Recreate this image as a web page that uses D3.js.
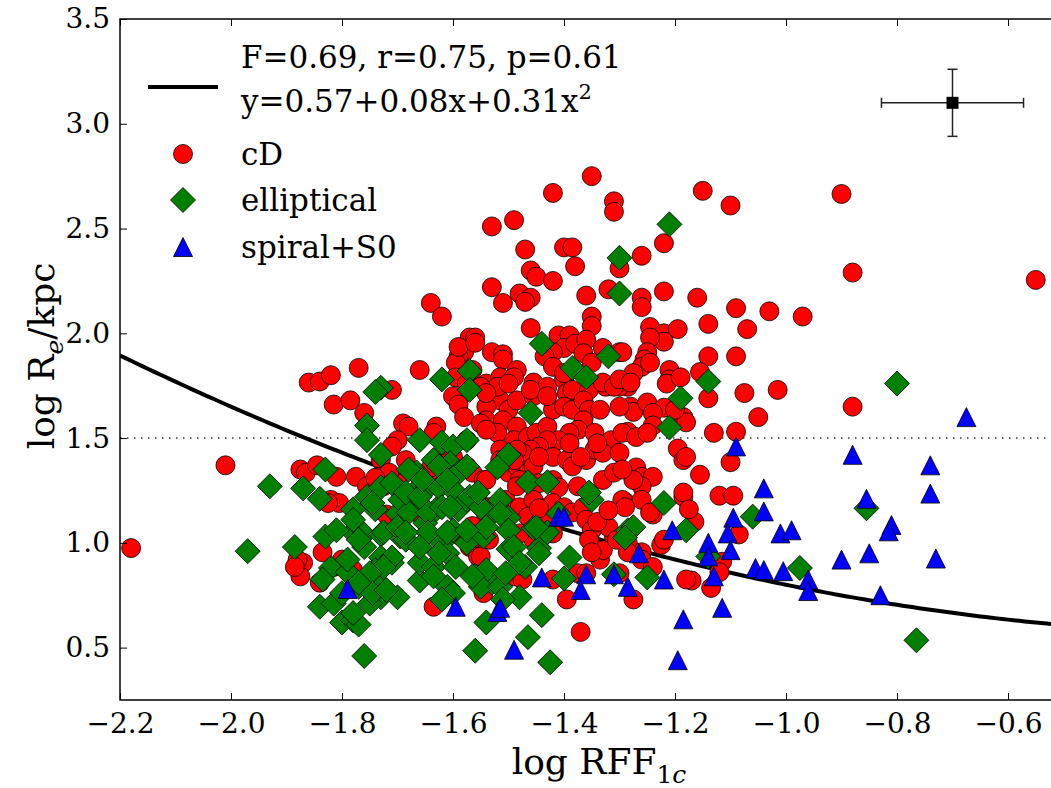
<!DOCTYPE html>
<html>
<head>
<meta charset="utf-8">
<script src="https://cdn.jsdelivr.net/npm/d3@7"></script>
<style>
  body { margin: 0; background: #fff; }
  svg { display: block; font-family: "DejaVu Serif", serif; }
</style>
</head>
<body>
<svg id="chart" width="1051" height="788"></svg>
<script>
// cD galaxies, [log RFF1c, log Re]
const cdPoints = [
  [-1.35,2.75],[-1.42,2.67],[-1.31,2.63],[-1.31,2.58],[-1.53,2.51],[-1.49,2.54],[-1.47,2.40],[-1.40,2.41],
  [-1.385,2.41],[-1.38,2.32],[-1.30,2.31],[-1.46,2.30],[-1.45,2.27],[-1.42,2.25],[-1.53,2.22],[-1.48,2.19],
  [-1.46,2.17],[-1.47,2.15],[-1.51,2.145],[-1.64,2.145],[-1.62,2.08],[-1.36,2.18],[-1.32,2.21],[-1.35,2.08],
  [-1.35,2.035],[-1.46,2.025],[-1.41,1.99],[-1.39,1.99],[-1.40,1.93],[-1.38,1.95],[-1.36,1.97],[-1.57,1.98],
  [-1.56,1.98],[-1.58,1.91],[-1.53,1.91],[-1.51,1.90],[-1.33,1.93],[-1.30,1.91],[-1.15,2.68],[-1.10,2.61],
  [-0.90,2.665],[-1.22,2.43],[-1.26,2.37],[-1.26,2.17],[-1.26,2.125],[-1.22,2.20],[-1.16,2.17],[-1.09,2.12],
  [-1.03,2.105],[-0.97,2.08],[-0.88,2.29],[-1.07,2.02],[-1.14,2.045],[-1.245,2.03],[-1.22,2.00],[-1.195,2.02],
  [-1.22,1.96],[-1.245,1.98],[-1.295,1.91],[-1.25,1.91],[-1.255,1.875],[-1.26,1.84],[-1.275,1.81],[-1.285,1.745],
  [-1.30,1.745],[-1.21,1.825],[-1.21,1.78],[-1.14,1.89],[-1.155,1.815],[-1.14,1.69],[-1.09,1.89],[-1.075,1.715],
  [-1.015,1.73],[-1.05,1.60],[-0.88,1.65],[-1.28,1.65],[-1.275,1.625],[-1.25,1.67],[-1.22,1.645],[-1.24,1.62],
  [-1.185,1.60],[-1.18,1.575],[-1.24,1.56],[-1.285,1.53],[-1.13,1.525],[-1.09,1.53],[-0.55,2.255],[-1.10,1.385],
  [-1.155,1.325],[-1.12,1.225],[-1.095,1.225],[-1.185,1.22],[-1.165,1.10],[-1.085,1.04],[-1.225,0.99],[-1.115,0.91],
  [-1.12,0.86],[-1.17,0.82],[-1.135,0.785],[-1.275,0.73],[-1.325,1.745],[-1.215,1.76],[-1.195,1.45],[-1.185,1.395],
  [-1.27,1.36],[-1.26,1.315],[-1.24,1.315],[-1.26,1.27],[-1.29,1.195],[-1.24,1.135],[-1.31,1.025],[-1.285,1.00],
  [-1.26,0.955],[-1.26,0.92],[-1.24,0.885],[-1.335,0.92],[-1.33,0.965],[-1.32,1.075],[-1.42,1.91],[-1.59,1.89],
  [-1.51,1.875],[-1.485,1.825],[-1.435,1.89],[-1.42,1.84],[-1.365,1.905],[-1.35,1.86],[-1.245,1.86],[-1.19,1.79],
  [-1.595,1.86],[-1.595,1.79],[-1.59,1.68],[-1.575,1.76],[-1.565,1.825],[-1.54,1.76],[-1.515,1.79],[-1.49,1.79],
  [-1.515,1.68],[-1.52,1.745],[-1.455,1.765],[-1.43,1.745],[-1.40,1.78],[-1.395,1.715],[-1.385,1.73],[-1.355,1.73],
  [-1.33,1.765],[-1.31,1.745],[-1.30,1.78],[-1.66,1.825],[-1.77,1.835],[-1.86,1.765],[-1.84,1.77],[-1.82,1.80],
  [-1.815,1.66],[-1.785,1.68],[-1.71,1.73],[-1.76,1.62],[-1.69,1.57],[-1.68,1.555],[-1.63,1.555],[-1.635,1.525],
  [-1.70,1.49],[-1.73,1.395],[-1.775,1.315],[-1.54,1.65],[-1.50,1.635],[-1.485,1.68],[-1.455,1.70],[-1.54,1.585],
  [-1.51,1.585],[-1.485,1.555],[-1.52,1.525],[-1.49,1.49],[-1.465,1.505],[-1.45,1.525],[-1.43,1.555],[-1.42,1.635],
  [-1.40,1.65],[-1.385,1.635],[-1.365,1.68],[-1.355,1.635],[-1.365,1.585],[-1.375,1.54],[-1.39,1.525],[-1.41,1.49],
  [-1.43,1.49],[-1.445,1.46],[-1.46,1.445],[-1.475,1.43],[-1.485,1.445],[-1.515,1.445],[-1.335,1.635],[-1.30,1.65],
  [-1.20,1.635],[-1.345,1.525],[-1.315,1.49],[-1.295,1.525],[-1.27,1.505],[-1.25,1.525],[-1.42,1.41],[-1.395,1.395],
  [-1.385,1.365],[-1.36,1.395],[-1.345,1.445],[-1.33,1.43],[-1.30,1.43],[-1.275,1.30],[-1.18,1.41],[-1.575,1.365],
  [-1.565,1.335],[-1.545,1.30],[-1.515,1.365],[-1.50,1.335],[-1.485,1.365],[-1.465,1.335],[-1.455,1.365],[-1.445,1.41],
  [-1.48,1.30],[-1.445,1.285],[-1.42,1.30],[-1.41,1.265],[-1.60,1.41],[-1.62,1.38],[-1.625,1.315],[-1.64,1.36],
  [-1.71,1.46],[-1.685,1.395],[-1.735,1.315],[-1.725,1.27],[-1.755,1.27],[-1.81,1.315],[-1.82,1.205],[-1.805,1.19],
  [-1.875,1.35],[-1.865,1.335],[-1.70,1.285],[-1.69,1.235],[-1.675,1.19],[-1.665,1.145],[-1.655,1.17],[-1.555,1.205],
  [-1.535,1.17],[-1.54,1.125],[-1.565,1.08],[-1.55,1.03],[-1.57,0.98],[-1.505,1.205],[-1.48,1.17],[-1.455,1.205],
  [-1.43,1.17],[-1.42,1.19],[-1.40,1.17],[-1.385,1.145],[-1.365,1.17],[-1.36,1.11],[-1.35,1.06],[-1.355,1.015],
  [-1.35,0.955],[-1.465,1.045],[-1.455,1.015],[-1.445,1.06],[-1.42,1.045],[-1.295,1.205],[-1.26,1.205],[-1.245,1.145],
  [-1.22,1.015],[-1.185,1.24],[-1.175,1.16],[-1.18,0.825],[-1.30,0.855],[-1.375,0.855],[-1.395,0.73],[-1.49,0.84],
  [-1.475,0.825],[-1.42,0.825],[-1.465,1.125],[-1.43,1.11],[-1.635,0.695],[-1.87,0.905],[-1.835,0.955],[-1.815,0.885],
  [-1.80,0.92],[-1.78,0.87],[-1.875,0.84],[-1.84,0.81],[-1.37,0.575],[-2.18,0.975],[-2.01,1.37],[-1.715,1.335],
  [-1.74,1.31],[-1.845,1.37],[-1.825,1.19],[-1.88,0.92],[-1.885,0.885],[-1.735,0.745],[-1.545,0.76],[-1.585,1.03],
  [-1.555,0.935],[-1.72,1.135],[-1.695,1.11],[-1.34,1.10],[-1.36,0.855],[-1.29,1.17],[-1.305,1.015],[-1.285,0.955],
  [-1.445,1.165],[-1.535,1.015],[-1.55,0.935],[-1.55,0.81],[-1.48,1.045],[-1.28,1.765],[-1.60,1.70],[-1.59,1.66],
  [-1.58,1.60],[-1.55,1.57],[-1.54,1.54],[-1.55,1.745],[-1.575,1.49],[-1.59,1.935],[-1.56,1.955],[-1.50,1.76],
  [-1.54,1.715],[-1.46,1.73],[-1.43,1.70],[-1.40,1.81],[-1.39,1.475],[-1.34,1.475],[-1.37,1.41],[-1.49,1.395],
  [-1.515,1.395],[-1.54,1.30],[-1.485,1.27],[-1.375,1.27],[-1.33,1.30],[-1.31,1.335],[-1.295,1.35],[-1.32,1.155]
];

// elliptical galaxies
const ellPoints = [
  [-1.21,2.52],[-1.30,2.36],[-1.30,2.19],[-1.44,1.95],[-1.32,1.89],[-1.14,1.77],[-1.19,1.69],[-1.21,1.55],
  [-0.80,1.76],[-1.73,1.74],[-1.74,1.72],[-1.62,1.78],[-1.57,1.82],[-1.57,1.73],[-1.755,1.56],[-1.755,1.49],
  [-1.73,1.42],[-1.66,1.49],[-1.62,1.48],[-1.60,1.46],[-1.575,1.49],[-1.83,1.35],[-1.87,1.26],[-1.84,1.21],
  [-1.93,1.27],[-1.97,0.96],[-1.885,0.98],[-1.83,1.03],[-1.82,0.88],[-1.84,0.695],[-1.815,0.71],[-1.80,0.62],
  [-1.78,0.63],[-1.77,0.61],[-1.76,0.46],[-1.78,1.05],[-1.76,1.04],[-1.73,1.04],[-1.76,0.98],[-1.755,1.22],
  [-1.74,1.16],[-1.78,1.16],[-1.79,0.86],[-1.755,0.81],[-1.73,0.74],[-1.75,0.71],[-1.77,0.79],[-1.73,0.93],
  [-1.74,0.87],[-1.71,0.905],[-1.70,0.74],[-1.56,0.485],[-1.54,0.62],[-1.745,0.82],[-1.79,0.92],[-1.70,1.14],
  [-1.695,1.03],[-1.71,0.93],[-1.66,0.82],[-1.66,0.905],[-1.65,1.095],[-1.62,1.00],[-1.61,0.95],[-1.60,1.06],
  [-1.575,1.00],[-1.59,1.16],[-1.56,0.84],[-1.53,0.81],[-1.63,1.16],[-1.67,1.19],[-1.61,0.79],[-1.545,1.03],
  [-1.635,0.885],[-1.53,1.14],[-1.50,1.12],[-1.50,1.06],[-1.54,0.87],[-1.55,0.79],[-1.455,1.07],[-1.445,0.975],
  [-1.43,1.05],[-1.50,0.97],[-1.47,0.885],[-1.39,0.93],[-1.40,0.83],[-1.48,0.74],[-1.44,0.655],[-1.465,0.55],
  [-1.425,0.43],[-1.285,1.06],[-1.275,1.075],[-1.25,0.835],[-1.31,0.85],[-1.35,1.205],[-1.22,1.19],[-1.41,1.14],
  [-1.385,1.835],[-1.36,1.79],[-1.46,1.62],[-1.50,1.42],[-1.52,1.36],[-1.515,1.205],[-1.465,1.29],[-1.43,1.29],
  [-1.45,1.075],[-1.49,0.98],[-1.515,1.14],[-1.54,1.075],[-1.355,1.24],[-1.29,1.025],[-1.18,1.06],[-1.06,1.125],
  [-1.14,0.935],[-0.975,0.88],[-0.855,1.165],[-0.765,0.535],[-1.81,1.06],[-1.78,1.11],[-1.73,1.265],[-1.71,1.285],
  [-1.695,1.205],[-1.77,1.015],[-1.725,1.05],[-1.70,1.075],[-1.685,1.015],[-1.725,0.885],[-1.75,0.855],[-1.835,0.825],
  [-1.80,0.76],[-1.78,0.665],[-1.745,0.76],[-1.72,0.775],[-1.77,0.81],[-1.635,1.395],[-1.605,1.38],[-1.59,1.335],
  [-1.665,1.335],[-1.67,1.24],[-1.645,1.265],[-1.625,1.265],[-1.595,1.24],[-1.575,1.205],[-1.68,1.145],[-1.645,1.145],
  [-1.62,1.17],[-1.645,1.05],[-1.61,1.05],[-1.575,1.06],[-1.685,1.05],[-1.66,0.98],[-1.625,0.95],[-1.595,0.885],
  [-1.565,0.84],[-1.515,0.79],[-1.60,0.76],[-1.62,0.73],[-1.635,0.84],[-1.51,0.73],[-1.48,0.905],[-1.445,0.95],
  [-1.505,0.855],[-1.745,1.19],[-1.685,1.24],[-1.66,1.22],[-1.605,1.17],[-1.57,1.22],[-1.55,1.17],[-1.68,1.35],
  [-1.655,1.30],[-1.625,1.365],[-1.61,1.30],[-1.575,1.365],[-1.555,1.24]
];

// spiral + S0 galaxies
const spiPoints = [
  [-1.79,0.78],[-1.595,0.695],[-1.52,0.67],[-1.515,0.69],[-1.41,1.125],[-1.40,1.125],[-1.44,0.835],[-1.36,0.85],
  [-1.37,0.775],[-1.31,0.85],[-1.285,0.79],[-1.265,0.95],[-1.22,0.825],[-1.205,1.06],[-1.49,0.49],[-1.195,0.44],
  [-1.185,0.635],[-1.09,1.46],[-0.88,1.42],[-0.675,1.60],[-0.74,1.37],[-0.74,1.235],[-0.855,1.21],[-1.04,1.26],
  [-1.04,1.15],[-1.01,1.045],[-0.99,1.06],[-1.095,1.12],[-1.105,1.045],[-1.10,0.965],[-0.81,1.085],[-0.815,1.055],
  [-0.85,0.95],[-0.90,0.92],[-0.73,0.925],[-1.055,0.88],[-1.04,0.87],[-1.005,0.865],[-0.96,0.825],[-0.96,0.77],
  [-0.83,0.75],[-1.14,1.00],[-1.14,0.935],[-1.13,0.84],[-1.115,0.69]
];

// fit: y = a + b x + c x^2
const fitCoef = [0.57, 0.08, 0.31];
const refLine = 1.5;
// typical error bar
const errPoint = {x: -0.70, y: 3.10, dx: 0.128, dy: 0.16};

const xTicks = [-2.2, -2.0, -1.8, -1.6, -1.4, -1.2, -1.0, -0.8, -0.6];
const yTicks = [0.5, 1.0, 1.5, 2.0, 2.5, 3.0, 3.5];

const svg = d3.select("#chart");
const mLeft = 120, mTop = 19, mBottom = 700;
const x = d3.scaleLinear().domain([-2.2, -0.5]).range([mLeft, mLeft + 1.7 * 555]);
const y = d3.scaleLinear().domain([0.25, 3.5]).range([mBottom, mTop]);

svg.append("defs").append("clipPath").attr("id", "clip")
    .append("rect").attr("x", mLeft).attr("y", mTop)
    .attr("width", x(-0.5) - mLeft).attr("height", mBottom - mTop);

const plot = svg.append("g").attr("clip-path", "url(#clip)");

// dotted reference line
plot.append("line")
    .attr("x1", x(-2.2)).attr("x2", x(-0.5))
    .attr("y1", y(refLine)).attr("y2", y(refLine))
    .attr("stroke", "#333").attr("stroke-width", 1.5)
    .attr("stroke-dasharray", "1.5,5.5");

// fitted curve
const fitX = d3.range(-2.2, -0.49, 0.01);
plot.append("path")
    .datum(fitX)
    .attr("fill", "none").attr("stroke", "#000").attr("stroke-width", 4)
    .attr("d", d3.line().x(d => x(d)).y(d => y(fitCoef[0] + fitCoef[1] * d + fitCoef[2] * d * d)));

const R = 9.5;
const diamond = "M0,-12.5L12.5,0L0,12.5L-12.5,0Z";
const triangle = `M0,${-R}L${R},${R}L${-R},${R}Z`;

plot.selectAll(".cd").data(cdPoints).join("circle")
    .attr("cx", d => x(d[0])).attr("cy", d => y(d[1])).attr("r", R)
    .attr("fill", "#ff0000").attr("stroke", "#000").attr("stroke-width", 0.8);

plot.selectAll(".ell").data(ellPoints).join("path")
    .attr("transform", d => `translate(${x(d[0])},${y(d[1])})`)
    .attr("d", diamond)
    .attr("fill", "#007f00").attr("stroke", "#000").attr("stroke-width", 0.8);

plot.selectAll(".spi").data(spiPoints).join("path")
    .attr("transform", d => `translate(${x(d[0])},${y(d[1])})`)
    .attr("d", triangle)
    .attr("fill", "#0000ff").attr("stroke", "#000").attr("stroke-width", 0.8);

// error bar
const eb = svg.append("g").attr("stroke", "#222").attr("stroke-width", 1.5);
eb.append("line").attr("x1", x(errPoint.x - errPoint.dx)).attr("x2", x(errPoint.x + errPoint.dx))
    .attr("y1", y(errPoint.y)).attr("y2", y(errPoint.y));
eb.append("line").attr("x1", x(errPoint.x)).attr("x2", x(errPoint.x))
    .attr("y1", y(errPoint.y - errPoint.dy)).attr("y2", y(errPoint.y + errPoint.dy));
[errPoint.x - errPoint.dx, errPoint.x + errPoint.dx].forEach(v => {
    eb.append("line").attr("x1", x(v)).attr("x2", x(v))
        .attr("y1", y(errPoint.y) - 5).attr("y2", y(errPoint.y) + 5);
});
[errPoint.y - errPoint.dy, errPoint.y + errPoint.dy].forEach(v => {
    eb.append("line").attr("x1", x(errPoint.x) - 5).attr("x2", x(errPoint.x) + 5)
        .attr("y1", y(v)).attr("y2", y(v));
});
svg.append("rect").attr("x", x(errPoint.x) - 6).attr("y", y(errPoint.y) - 6)
    .attr("width", 12).attr("height", 12).attr("fill", "#000");

// axes
const fmt = d3.format(".1f");
function styleAxis(g) {
    g.select(".domain").remove();
    g.selectAll("line").attr("stroke", "#000").attr("stroke-width", 1);
    g.selectAll("text").attr("font-family", "DejaVu Serif").attr("font-size", 28).attr("fill", "#000");
}
svg.append("g").attr("transform", `translate(0,${mBottom})`)
    .call(d3.axisBottom(x).tickValues(xTicks).tickFormat(fmt).tickSize(-7).tickPadding(13))
    .call(styleAxis);
svg.append("g").attr("transform", `translate(0,${mTop})`)
    .call(d3.axisTop(x).tickValues(xTicks).tickFormat("").tickSize(-7))
    .call(styleAxis);
svg.append("g").attr("transform", `translate(${mLeft},0)`)
    .call(d3.axisLeft(y).tickValues(yTicks).tickFormat(fmt).tickSize(-7).tickPadding(10))
    .call(styleAxis);

// spines
svg.append("path")
    .attr("d", `M${x(-0.5)},${mTop}H${mLeft}V${mBottom}H${x(-0.5)}`)
    .attr("fill", "none").attr("stroke", "#000").attr("stroke-width", 1.5);

// axis labels
const xl = svg.append("text").attr("x", 599).attr("y", 774)
    .attr("text-anchor", "middle").attr("font-size", 36);
xl.append("tspan").text("log RFF");
xl.append("tspan").attr("font-size", 25).attr("dy", 9).text("1");
xl.append("tspan").attr("font-size", 25).attr("font-style", "italic").text("c");

const yl = svg.append("text").attr("transform", "translate(54,356) rotate(-90)")
    .attr("text-anchor", "middle").attr("font-size", 36);
yl.append("tspan").text("log R");
yl.append("tspan").attr("font-size", 25).attr("font-style", "italic").attr("dy", 9).text("e");
yl.append("tspan").attr("dy", -9).text("/kpc");

// legend
const lg = svg.append("g").attr("font-size", 31);
lg.append("line").attr("x1", 148).attr("x2", 218).attr("y1", 87).attr("y2", 87)
    .attr("stroke", "#000").attr("stroke-width", 4);
lg.append("text").attr("x", 241).attr("y", 68).text("F=0.69, r=0.75, p=0.61");
const eq = lg.append("text").attr("x", 241).attr("y", 112);
eq.append("tspan").text("y=0.57+0.08x+0.31x");
eq.append("tspan").attr("font-size", 21).attr("dy", -13).text("2");

lg.append("circle").attr("cx", 183).attr("cy", 154).attr("r", R)
    .attr("fill", "#ff0000").attr("stroke", "#000").attr("stroke-width", 0.8);
lg.append("path").attr("transform", "translate(183,200)").attr("d", diamond)
    .attr("fill", "#007f00").attr("stroke", "#000").attr("stroke-width", 0.8);
lg.append("path").attr("transform", "translate(183,247)").attr("d", triangle)
    .attr("fill", "#0000ff").attr("stroke", "#000").attr("stroke-width", 0.8);
lg.append("text").attr("x", 241).attr("y", 165).text("cD");
lg.append("text").attr("x", 241).attr("y", 211).text("elliptical");
lg.append("text").attr("x", 241).attr("y", 258).text("spiral+S0");
</script>
</body>
</html>
